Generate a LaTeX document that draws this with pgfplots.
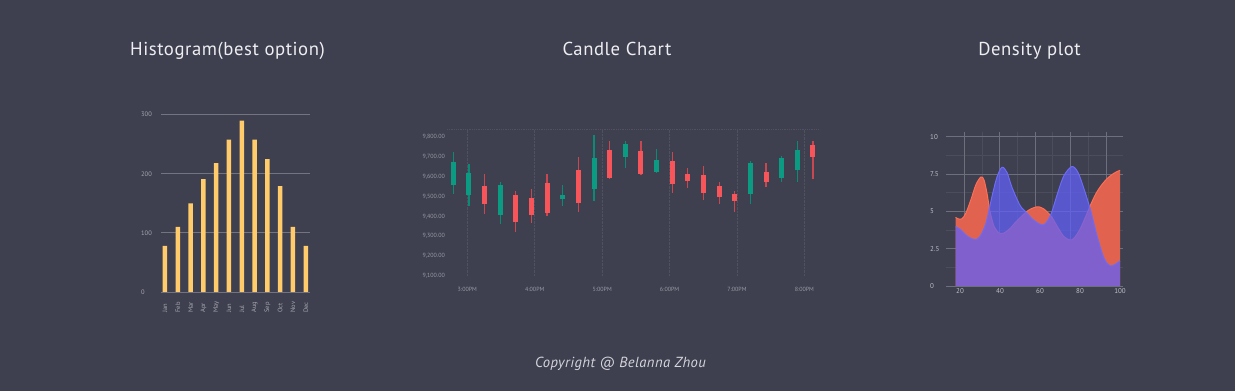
\documentclass[border=0pt]{standalone}
\usepackage{pgfplots}
\usepackage{pgfplotstable}
\pgfplotsset{compat=1.18}
\usepackage{fontspec}
\setmainfont{PT Sans}
\newfontfamily\titlefont[LetterSpace=3]{PT Sans}
\definecolor{bg}{HTML}{3E3F4F}
\definecolor{titlec}{HTML}{EEEEF2}
\definecolor{copyc}{HTML}{D5D5DC}
\definecolor{histbar}{HTML}{FFCB6B}
\definecolor{histgrid}{HTML}{737480}
\definecolor{ticklab}{HTML}{A8A8B2}
\definecolor{candlelab}{HTML}{9A9AA4}
\definecolor{cgreen}{HTML}{0A9B82}
\definecolor{cred}{HTML}{F7555A}
\definecolor{cgreenw}{HTML}{0B8A76}
\definecolor{credw}{HTML}{C9484F}
\definecolor{cgrid}{HTML}{50515F}
\definecolor{dred}{HTML}{E0624F}
\definecolor{dredline}{HTML}{FF6E55}
\definecolor{dblue}{HTML}{6160F7}
\definecolor{dblueline}{HTML}{6B6BF5}
\definecolor{dgrid}{HTML}{6E6F7C}
\definecolor{dgridminor}{HTML}{4C4D5C}
\definecolor{dlab}{HTML}{C0C0C8}

% candles: x, body top, body bottom, high, low
\pgfplotstableread{
x top bot hi lo
0 9677 9559 9724 9513
1 9621 9507 9666 9454
3 9560 9408 9572 9360
7 9508 9488 9557 9454
9 9697 9540 9812 9479
11 9768 9702 9781 9643
13 9685 9626 9741 9618
19 9670 9513 9680 9462
21 9695 9596 9704 9575
22 9737 9633 9781 9575
}\greencandles
\pgfplotstableread{
x top bot hi lo
2 9552 9461 9616 9412
4 9508 9373 9528 9322
5 9493 9408 9538 9367
6 9569 9417 9613 9402
8 9634 9469 9700 9420
10 9736 9593 9781 9590
12 9731 9616 9781 9610
14 9680 9564 9724 9518
15 9613 9579 9643 9545
16 9608 9520 9653 9484
17 9554 9497 9572 9464
18 9513 9478 9528 9424
20 9626 9575 9670 9547
23 9761 9702 9781 9591
}\redcandles

\pgfplotstableread{
x y
17.8 4.6
19 4.5
21 4.5
23 4.9
25.5 5.8
28 6.8
30.5 7.3
32 7.1
33.5 6.2
35 5.0
37 4.0
39.5 3.55
42 3.55
45 3.85
48 4.3
51 4.7
54 5.05
57 5.25
59.5 5.3
62 5.15
64 4.9
66 4.6
69 3.9
72 3.3
75 3.08
77 3.2
80 3.8
83 4.7
85 5.35
88 6.2
91 6.8
94 7.25
97 7.55
100 7.75
}\densred
\pgfplotstableread{
x y
17.8 3.97
20 3.8
24 3.3
27.5 3.1
30 3.3
33 4.2
36 6.0
38.5 7.3
41 7.95
43.5 7.6
46 6.6
50 5.4
53 4.95
56 4.5
59 4.2
61.7 4.08
64 4.4
66 5.0
69 6.3
72 7.4
76 8.0
79 7.6
82 6.5
85 5.2
88 3.6
91 2.2
93 1.6
95 1.35
97 1.4
100 1.67
}\densblue

\pgfplotsset{candle/.style={only marks, mark size=0pt, mark options={draw opacity=0, fill opacity=0}}}

\begin{document}
\begin{tikzpicture}
\useasboundingbox (0,0) rectangle (1235pt,391pt);
\fill[bg] (0,0) rectangle (1235pt,391pt);

% titles
\node[anchor=base, text=titlec, font=\titlefont\fontsize{18.7}{21}\selectfont] at (227.5pt,335pt) {Histogram(best option)};
\node[anchor=base, text=titlec, font=\titlefont\fontsize{18.7}{21}\selectfont] at (617pt,335pt) {Candle Chart};
\node[anchor=base, text=titlec, font=\titlefont\fontsize{18.7}{21}\selectfont] at (1029.5pt,335pt) {Density plot};
\node[anchor=base, text=copyc, font=\titlefont\itshape\fontsize{14.6}{16}\selectfont] at (620.5pt,23.7pt) {Copyright @ Belanna Zhou};

% ---------------- histogram
\begin{axis}[
  at={(161pt,99pt)}, anchor=south west, scale only axis,
  width=149pt, height=177.3pt,
  xmin=-0.31, xmax=11.33, ymin=0, ymax=300,
  /pgf/number format/assume math mode=true,
  axis line style={draw=none}, tick style={draw=none},
  ytick={0,100,200,300}, ymajorgrids, grid style={histgrid, line width=0.9pt},
  xtick={0,...,11},
  xticklabels={Jan,Feb,Mar,Apr,May,Jun,Jul,Aug,Sep,Oct,Nov,Dec},
  xticklabel style={rotate=90, anchor=west, inner sep=0pt, font=\fontsize{6.5}{7}\selectfont, text=ticklab},
  xticklabel shift=20.7pt,
  yticklabel style={anchor=west, inner sep=0pt, font=\fontsize{6.5}{7}\selectfont, text=ticklab},
  yticklabel shift=20pt,
  clip=false,
]
\addplot[ybar, bar width=4.5pt, fill=histbar, draw=none] coordinates {
(0,78) (1,110) (2,150) (3,191) (4,218) (5,258) (6,290) (7,258) (8,225) (9,179) (10,110) (11,78)};
\end{axis}

% ---------------- candle chart
\begin{axis}[
  at={(447pt,115.3pt)}, anchor=south west, scale only axis,
  width=373pt, height=146.7pt,
  xmin=-0.4, xmax=23.45, ymin=9100, ymax=9842,
  axis line style={draw=none}, tick style={draw=none},
  xtick={0.9,5.21,9.52,13.83,18.14,22.45},
  xticklabels={3:00PM,4:00PM,5:00PM,6:00PM,7:00PM,8:00PM},
  xmajorgrids, grid style={cgrid, densely dotted, line width=0.8pt},
  ytick={9100,9200,9300,9400,9500,9600,9700,9800},
  yticklabels={{9,100.00},{9,200.00},{9,300.00},{9,400.00},{9,500.00},{9,600.00},{9,700.00},{9,800.00}},
  xticklabel style={anchor=center, inner sep=0pt, font=\fontsize{6}{7}\selectfont, text=candlelab},
  xticklabel shift=13.3pt,
  yticklabel style={anchor=east, inner sep=0pt, font=\fontsize{6}{7}\selectfont, text=candlelab},
  yticklabel shift=2pt,
]
\draw[cgrid, densely dotted, line width=0.8pt] (rel axis cs:0,1) -- (rel axis cs:1,1);
% wicks
\addplot[candle, error bars/.cd, y dir=both, y explicit, error mark=none,
  error bar style={line width=1.2pt, cgreenw}]
  table[x=x, y expr=(\thisrow{hi}+\thisrow{lo})/2, y error expr=(\thisrow{hi}-\thisrow{lo})/2] {\greencandles};
\addplot[candle, error bars/.cd, y dir=both, y explicit, error mark=none,
  error bar style={line width=1.2pt, credw}]
  table[x=x, y expr=(\thisrow{hi}+\thisrow{lo})/2, y error expr=(\thisrow{hi}-\thisrow{lo})/2] {\redcandles};
% bodies
\addplot[candle, error bars/.cd, y dir=both, y explicit, error mark=none,
  error bar style={line width=5pt, cgreen}]
  table[x=x, y expr=(\thisrow{top}+\thisrow{bot})/2, y error expr=(\thisrow{top}-\thisrow{bot})/2] {\greencandles};
\addplot[candle, error bars/.cd, y dir=both, y explicit, error mark=none,
  error bar style={line width=5pt, cred}]
  table[x=x, y expr=(\thisrow{top}+\thisrow{bot})/2, y error expr=(\thisrow{top}-\thisrow{bot})/2] {\redcandles};
\end{axis}

% ---------------- density plot
\begin{axis}[
  at={(946pt,105pt)}, anchor=south west, scale only axis,
  width=177pt, height=154.3pt,
  xmin=13, xmax=101.5, ymin=0, ymax=10.33,
  /pgf/number format/assume math mode=true,
  axis line style={draw=none}, tick style={draw=none},
  xtick={20,40,60,80,100},
  ytick={0,2.5,5,7.5,10}, yticklabels={0,2.5,5,7.5,10},
  ymajorgrids, major grid style={dgrid, line width=0.8pt},
  minor xtick={30.9,48.6,66.25,84}, minor ytick={1.25,3.75,6.25,8.75},
  xminorgrids, yminorgrids, minor grid style={dgridminor, line width=0.6pt},
  extra x ticks={22.15,39.65,57.5,75,93}, extra x tick labels={},
  extra x tick style={grid=major, major grid style={dgrid, line width=0.8pt}},
  xticklabel style={anchor=center, inner sep=0pt, font=\fontsize{7}{8}\selectfont, text=dlab},
  xticklabel shift=5.5pt,
  yticklabel style={anchor=west, inner sep=0pt, font=\fontsize{7}{8}\selectfont, text=dlab},
  yticklabel shift=16pt,
]
\addplot[draw=none, fill=dred, smooth] table[x=x,y=y] {\densred} \closedcycle;
\addplot[draw=dredline, line width=1pt, smooth] table[x=x,y=y] {\densred};
\addplot[draw=none, fill=dblue, fill opacity=0.75, smooth] table[x=x,y=y] {\densblue} \closedcycle;
\addplot[draw=dblueline, line width=1pt, smooth] table[x=x,y=y] {\densblue};
\end{axis}
\end{tikzpicture}
\end{document}
